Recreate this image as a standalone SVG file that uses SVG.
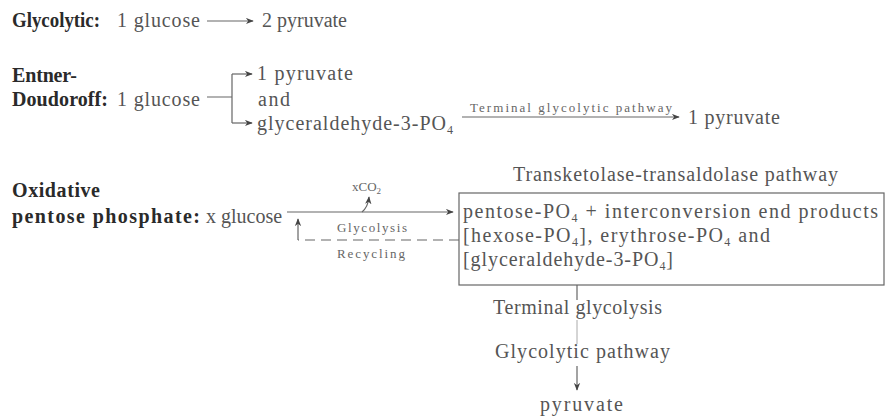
<svg xmlns="http://www.w3.org/2000/svg" width="886" height="418" viewBox="0 0 886 418">
<style>
text{font-family:"Liberation Serif","Times New Roman",serif;font-size:20px;fill:#555}
.b{font-weight:bold;font-size:20px;fill:#2a2a2a}
.s{font-size:13px;fill:#666}
.sub{font-size:12px}
.ln{fill:none;stroke:#666;stroke-width:1.2}
.dash{stroke-dasharray:10 6}
.faint{stroke:#aaa;stroke-width:1}
</style>
<defs>
<marker id="ah" viewBox="0 0 10 8" refX="9" refY="4" markerWidth="8" markerHeight="7" markerUnits="userSpaceOnUse" orient="auto">
<path d="M0,0 L10,4 L0,8 L3,4 z" fill="#444"/>
</marker>
</defs>
<rect width="886" height="418" fill="#fff"/>

<g id="glycolytic">
<text x="12" y="27" class="b" textLength="88" lengthAdjust="spacingAndGlyphs">Glycolytic:</text>
<text x="117" y="27" textLength="83">1 glucose</text>
<text x="262" y="27">2 pyruvate</text>
</g>

<g id="entner-doudoroff">
<text x="12" y="82" class="b" textLength="65">Entner-</text>
<text x="12" y="106" class="b" textLength="96">Doudoroff:</text>
<text x="117" y="106" textLength="83">1 glucose</text>
<text x="257" y="80" textLength="96">1 pyruvate</text>
<text x="258" y="106" textLength="32">and</text>
<text x="257" y="130" textLength="196">glyceraldehyde-3-PO<tspan class="sub" dy="4">4</tspan></text>
<text x="470" y="112" class="s" textLength="202">Terminal glycolytic pathway</text>
<text x="688" y="124" textLength="92">1 pyruvate</text>
</g>

<g id="oxidative">
<text x="12" y="197" class="b" textLength="88">Oxidative</text>
<text x="12" y="223" class="b" textLength="188">pentose phosphate:</text>
<text x="206" y="223" font-size="19">x glucose</text>
<text x="352" y="191" class="s" font-size="14">xCO<tspan font-size="9" dy="3">2</tspan></text>
<text x="337" y="232" class="s" textLength="70">Glycolysis</text>
<text x="337" y="258" class="s" textLength="68">Recycling</text>
</g>

<g id="transketolase">
<text x="513" y="181" textLength="325">Transketolase-transaldolase pathway</text>
<rect x="459" y="193" width="425" height="92" class="ln"/>
<text x="463" y="218" textLength="415">pentose-PO<tspan class="sub" dy="4">4</tspan><tspan dy="-4"> + interconversion end products</tspan></text>
<text x="463" y="242" textLength="307">[hexose-PO<tspan class="sub" dy="4">4</tspan><tspan dy="-4">], erythrose-PO</tspan><tspan class="sub" dy="4">4</tspan><tspan dy="-4"> and</tspan></text>
<text x="463" y="266" textLength="210">[glyceraldehyde-3-PO<tspan class="sub" dy="4">4</tspan><tspan dy="-4">]</tspan></text>
</g>

<g id="terminal">
<text x="493" y="314" textLength="169">Terminal glycolysis</text>
<text x="495" y="358" textLength="175">Glycolytic pathway</text>
<text x="540" y="411" textLength="83">pyruvate</text>
</g>

<g id="connectors">
<path class="ln" d="M207,21 H253" marker-end="url(#ah)"/>
<path class="ln" d="M207,97 H232 M232,74 V123"/>
<path class="ln" d="M232,74 H252" marker-end="url(#ah)"/>
<path class="ln" d="M232,123 H252" marker-end="url(#ah)"/>
<path class="ln" d="M462,117 H679" marker-end="url(#ah)"/>
<path class="ln" d="M287,212 H453" marker-end="url(#ah)"/>
<path class="ln" d="M362,212 Q368,207 369,197" marker-end="url(#ah)"/>
<path class="ln dash" d="M459,240 H298"/>
<path class="ln" d="M298,240 V219" marker-end="url(#ah)"/>
<path class="ln" d="M577,285 V300"/>
<path class="ln faint" d="M577,320 V344"/>
<path class="ln" d="M577,366 V390" marker-end="url(#ah)"/>
</g>
</svg>
